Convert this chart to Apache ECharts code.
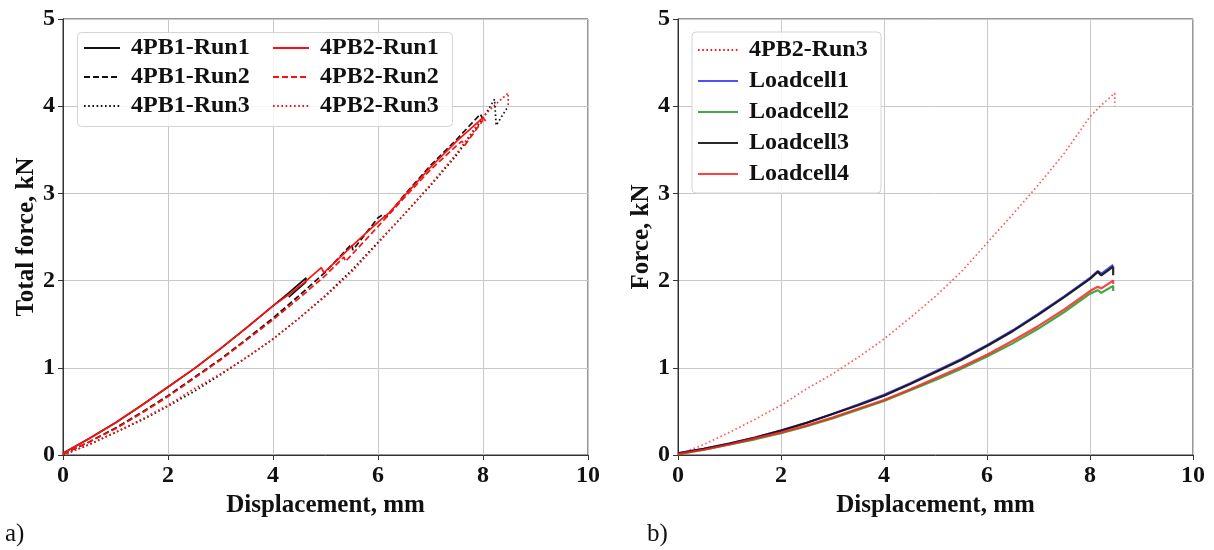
<!DOCTYPE html>
<html>
<head>
<meta charset="utf-8">
<script src="https://cdn.jsdelivr.net/npm/echarts@6/dist/echarts.min.js"></script>
<style>
html,body{margin:0;padding:0;background:#fff;}
#c{width:1214px;height:550px;}
</style>
</head>
<body>
<div id="c"></div>
<script>
// ---- data (displacement mm, force kN) ----
var pb1Run1 = [[0,0.02],[0.5,0.19],[1,0.37],[1.5,0.57],[2,0.78],[2.5,0.99],[3,1.22],[3.5,1.46],[4,1.71],[4.3,1.86],[4.63,2.03],[4.62,1.98],[4.3,1.81]];
var pb2Run1 = [[0,0.02],[0.5,0.19],[1,0.37],[1.5,0.57],[2,0.78],[2.5,0.99],[3,1.22],[3.5,1.46],[4,1.71],[4.3,1.84],[4.6,1.98],[4.92,2.15],[4.97,2.09],[5.3,2.28],[5.6,2.45],[6,2.67],[6.2,2.77],[6.5,2.97],[7,3.3],[7.5,3.6],[8,3.87],[8.05,3.83]];
var pb1Run2 = [[0,0.01],[0.5,0.15],[1,0.31],[1.5,0.49],[2,0.68],[2.5,0.89],[3,1.1],[3.5,1.33],[4,1.57],[4.5,1.83],[5,2.1],[5.5,2.42],[5.52,2.35],[6,2.72],[6.1,2.76],[6.15,2.72],[6.5,2.98],[7,3.32],[7.5,3.62],[7.95,3.91],[8.0,3.85]];
var pb2Run2 = [[0,0.01],[0.5,0.15],[1,0.3],[1.5,0.48],[2,0.67],[2.5,0.88],[3,1.09],[3.5,1.32],[4,1.55],[4.5,1.8],[5,2.06],[5.35,2.27],[5.38,2.22],[6,2.62],[6.5,2.95],[7,3.27],[7.5,3.55],[7.6,3.6],[7.65,3.55],[8,3.84]];
var pb1Run3 = [[0,0],[0.5,0.12],[1,0.26],[1.5,0.4],[2,0.56],[2.5,0.73],[3,0.92],[3.5,1.12],[4,1.33],[4.5,1.57],[5,1.83],[5.5,2.12],[6,2.44],[6.5,2.76],[7,3.09],[7.5,3.44],[8,3.86],[8.22,4.08],[8.25,3.78],[8.48,4.0]];
var pb2Run3 = [[0,0],[0.5,0.12],[1,0.26],[1.5,0.41],[2,0.57],[2.5,0.76],[3,0.93],[3.5,1.12],[4,1.33],[4.5,1.57],[5,1.82],[5.5,2.1],[6,2.43],[6.5,2.76],[7,3.1],[7.5,3.46],[8,3.88],[8.2,4.0],[8.48,4.15],[8.48,4.0]];
var loadcell1 = [[0,0.02],[0.5,0.07],[1,0.13],[1.5,0.2],[2,0.28],[2.5,0.37],[3,0.47],[3.5,0.58],[4,0.69],[4.5,0.82],[5,0.96],[5.5,1.1],[6,1.26],[6.5,1.43],[7,1.62],[7.5,1.82],[8,2.03],[8.15,2.11],[8.22,2.08],[8.45,2.18]];
var loadcell2 = [[0,0.01],[0.5,0.06],[1,0.12],[1.5,0.18],[2,0.25],[2.5,0.33],[3,0.42],[3.5,0.52],[4,0.62],[4.5,0.74],[5,0.86],[5.5,0.99],[6,1.13],[6.5,1.28],[7,1.45],[7.5,1.64],[8,1.85],[8.15,1.89],[8.22,1.86],[8.45,1.94],[8.45,1.88]];
var loadcell3 = [[0,0.02],[0.5,0.07],[1,0.13],[1.5,0.2],[2,0.28],[2.5,0.37],[3,0.47],[3.5,0.57],[4,0.68],[4.5,0.81],[5,0.95],[5.5,1.09],[6,1.25],[6.5,1.42],[7,1.61],[7.5,1.81],[8,2.02],[8.15,2.1],[8.22,2.06],[8.45,2.16],[8.45,2.06]];
var loadcell4 = [[0,0.01],[0.5,0.06],[1,0.12],[1.5,0.19],[2,0.26],[2.5,0.34],[3,0.43],[3.5,0.53],[4,0.63],[4.5,0.75],[5,0.88],[5.5,1.01],[6,1.15],[6.5,1.31],[7,1.48],[7.5,1.67],[8,1.88],[8.15,1.93],[8.22,1.91],[8.45,2.0],[8.45,1.96]];
var xTicks = [0,2,4,6,8,10];
var yTicks = [0,1,2,3,4,5];
var leftLegendCol1 = ['4PB1-Run1','4PB1-Run2','4PB1-Run3'];
var leftLegendCol2 = ['4PB2-Run1','4PB2-Run2','4PB2-Run3'];
var rightLegend = ['4PB2-Run3','Loadcell1','Loadcell2','Loadcell3','Loadcell4'];

var FONT = "'Liberation Serif','Times New Roman',serif";
var AX = '#333';
var GRIDC = '#c8c8c8';
var DASH = [6,3];
var DOT = [1.6,2.6];

function xAxisFor(i){
  return {
    type:'value', gridIndex:i, min:xTicks[0], max:xTicks[xTicks.length-1], interval:2,
    name:'Displacement, mm', nameLocation:'middle', nameGap:36,
    nameTextStyle:{fontFamily:FONT,fontWeight:'bold',fontSize:25,color:'#111'},
    axisLine:{show:true,lineStyle:{color:AX,width:1}},
    axisTick:{show:true,inside:false,length:5,lineStyle:{color:AX}},
    axisLabel:{fontFamily:FONT,fontWeight:'bold',fontSize:24,color:'#111',margin:9},
    splitLine:{show:true,lineStyle:{color:GRIDC,width:1}}
  };
}
function yAxisFor(i,name,gap){
  return {
    type:'value', gridIndex:i, min:yTicks[0], max:yTicks[yTicks.length-1], interval:1,
    name:name, nameLocation:'middle', nameGap:gap,
    nameTextStyle:{fontFamily:FONT,fontWeight:'bold',fontSize:25,color:'#111'},
    axisLine:{show:true,lineStyle:{color:AX,width:1}},
    axisTick:{show:true,inside:false,length:5,lineStyle:{color:AX}},
    axisLabel:{fontFamily:FONT,fontWeight:'bold',fontSize:24,color:'#111',margin:8},
    splitLine:{show:true,lineStyle:{color:GRIDC,width:1}}
  };
}
function ser(name,data,color,type,width,gi,op){
  return {name:name,type:'line',data:data,xAxisIndex:gi,yAxisIndex:gi,symbol:'none',
    smooth:false,silent:true,animation:false,
    lineStyle:{color:color,type:type,width:width,opacity:op||1},itemStyle:{color:color}};
}
var legTxt = {fontFamily:FONT,fontWeight:'bold',fontSize:24,color:'#111',lineHeight:18,padding:[0,0,0,6]};
function colLegend(data,left){
  return {data:data, orient:'vertical', left:left, top:36, itemWidth:36, itemHeight:14, itemGap:5,
    padding:0, itemStyle:{opacity:0,borderWidth:0}, textStyle:legTxt, selectedMode:false, z:6};
}

var chart = echarts.init(document.getElementById('c'),null,{renderer:'canvas'});
chart.setOption({
  backgroundColor:'#fff',
  animation:false,
  grid:[
    {left:63,top:19,width:525,height:436,show:true,borderColor:AX,borderWidth:1,backgroundColor:'transparent'},
    {left:678,top:19,width:515,height:436,show:true,borderColor:AX,borderWidth:1,backgroundColor:'transparent'}
  ],
  xAxis:[xAxisFor(0),xAxisFor(1)],
  yAxis:[yAxisFor(0,'Total force, kN',24),yAxisFor(1,'Force, kN',23)],
  legend:[
    colLegend(leftLegendCol1,83),
    colLegend(leftLegendCol2,272),
    {data:rightLegend, orient:'vertical', left:692, top:32,
     itemWidth:40, itemHeight:14, itemGap:7, padding:[6,8,7,5],
     itemStyle:{opacity:0, borderWidth:0},
     backgroundColor:'rgba(255,255,255,0.85)', borderColor:'#d4d4d4', borderWidth:1, borderRadius:4,
     textStyle:{fontFamily:FONT,fontWeight:'bold',fontSize:24,color:'#111',width:124,lineHeight:18,padding:[0,0,0,6]},
     selectedMode:false}
  ],
  graphic:[
    {type:'rect',z:5,shape:{x:77.5,y:32.5,width:375,height:94,r:4},
     style:{fill:'rgba(255,255,255,0.85)',stroke:'#d4d4d4',lineWidth:1}},
    {type:'text',left:5,top:522,style:{text:'a)',font:"25px 'Liberation Serif','Times New Roman',serif",fill:'#111'}},
    {type:'text',left:647,top:522,style:{text:'b)',font:"25px 'Liberation Serif','Times New Roman',serif",fill:'#111'}}
  ],
  series:[
    ser('4PB1-Run1',pb1Run1,'#111','solid',1.7,0),
    ser('4PB1-Run2',pb1Run2,'#111',DASH,1.7,0),
    ser('4PB1-Run3',pb1Run3,'#111',DOT,1.7,0),
    ser('4PB2-Run1',pb2Run1,'#ff1010','solid',1.7,0),
    ser('4PB2-Run2',pb2Run2,'#ff1010',DASH,1.7,0),
    ser('4PB2-Run3',pb2Run3,'#ff1010',DOT,1.7,0),
    ser('4PB2-Run3',pb2Run3,'#ff4040',DOT,1.7,1,0.85),
    ser('Loadcell1',loadcell1,'#3030ff','solid',2.2,1,0.85),
    ser('Loadcell2',loadcell2,'#1f9a1f','solid',2.2,1,0.85),
    ser('Loadcell3',loadcell3,'#111','solid',2.2,1,0.9),
    ser('Loadcell4',loadcell4,'#ff2020','solid',2.2,1,0.85)
  ]
});
</script>
</body>
</html>
